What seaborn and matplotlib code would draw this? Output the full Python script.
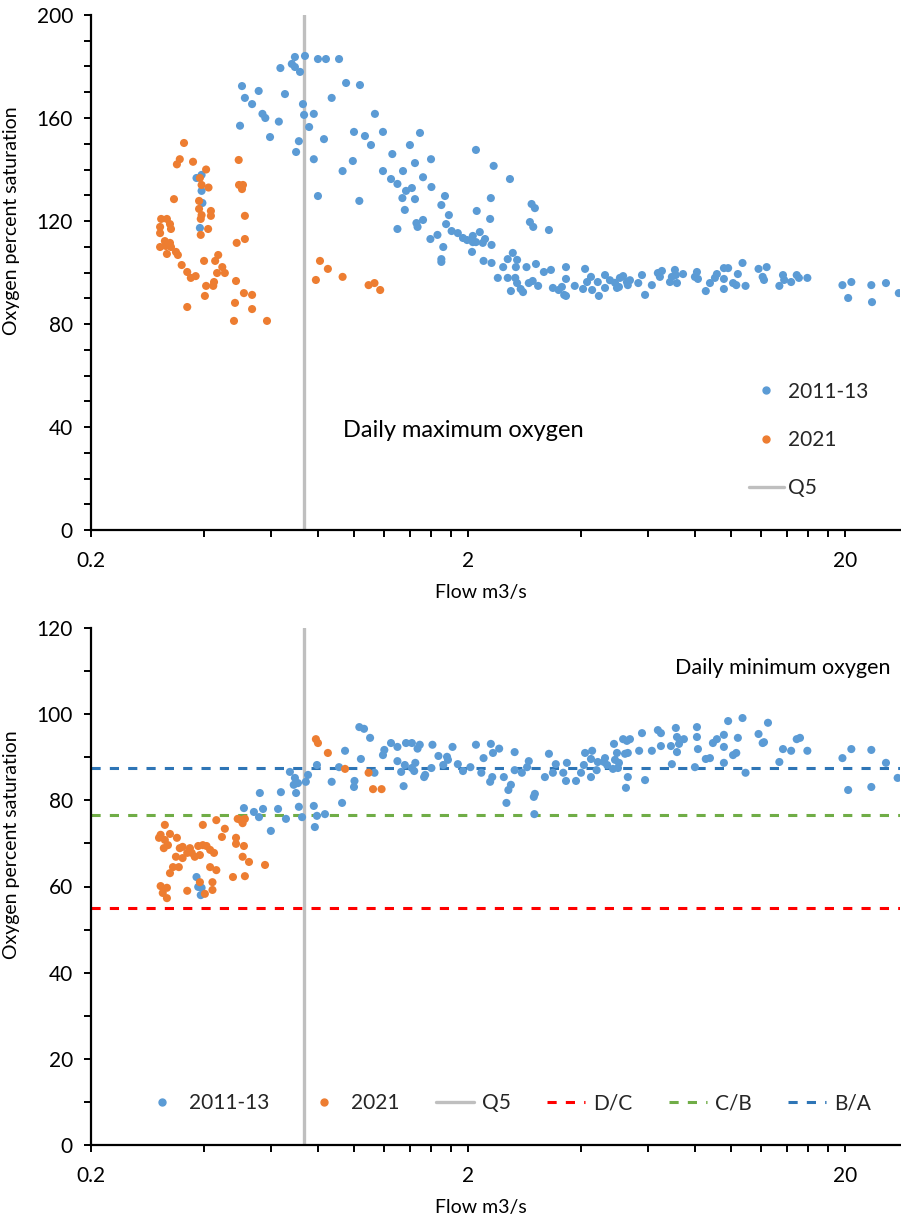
import numpy as np
import pandas as pd
import matplotlib
matplotlib.use("Agg")
import matplotlib.pyplot as plt
from matplotlib.lines import Line2D
from matplotlib.ticker import FixedLocator, MultipleLocator, NullFormatter, FixedFormatter
import seaborn as sns

# ---------------- data ----------------
# Daily maximum oxygen (% saturation) against flow (m3/s)
max_1113_flow = [0.381, 0.393, 0.393, 0.395, 0.389,
                 0.497, 0.503, 0.512, 0.535, 0.557, 0.570, 0.580, 0.597, 0.630, 0.636, 0.654,
                 0.695, 0.739, 0.682, 0.695, 0.717, 0.80, 0.84, 0.91, 0.95, 1.034, 0.87, 0.73,
                 0.735, 0.78, 1.133, 0.758, 0.997, 1.066, 1.19, 1.492, 0.712, 0.83, 1.106, 1.403,
                 0.70, 0.78, 0.99, 1.26, 1.447, 1.596, 2.10, 0.93, 1.19, 1.345, 2.34, 1.52, 1.25,
                 1.30, 1.37, 1.42, 1.60, 2.585, 0.80, 1.03, 1.34, 1.447, 1.738, 1.70, 2.30, 2.95,
                 3.01, 1.36, 2.11, 1.78,
                 1.46, 1.52, 1.47, 1.30, 1.75, 1.81, 2.29, 2.15, 2.92, 2.98, 3.28, 1.59, 1.66,
                 1.88, 1.94, 1.99, 2.06, 2.10, 2.06, 2.22, 2.31, 2.19, 1.72, 2.05, 1.70, 1.70,
                 2.20, 2.31, 2.63, 2.55, 2.70, 2.48, 2.68, 2.86, 3.03, 3.18, 3.32, 3.64, 2.40,
                 2.55, 2.67, 2.70, 2.90, 2.97, 3.07, 2.60, 2.80, 2.76, 3.36, 3.48, 3.55, 3.64,
                 3.64, 3.60, 3.84,
                 4.09, 4.04, 4.14, 4.24, 4.27, 4.45, 4.42, 4.62, 4.62, 4.76, 4.91, 4.97, 5.06,
                 5.16, 5.28, 5.38, 5.31, 5.03, 5.66, 5.79, 5.90, 6.15, 6.38, 6.54, 6.46, 6.87,
                 7.17, 7.08, 7.12, 7.44, 6.95, 8.00, 8.10, 8.15, 8.55, 8.77, 9.04, 9.15, 9.55,
                 9.55, 9.55, 9.80, 10.1, 10.4, 10.7, 10.9, 10.3, 11.8, 12.2, 12.4, 12.1, 13.4,
                 13.7, 13.8, 14.4, 14.9, 15.1, 15.9, 19.7, 20.8, 20.4, 23.5, 23.6, 25.7, 27.8]
max_1113_oxy = [136.7, 137.9, 131.7, 127.0, 117.3,
                157.0, 172.4, 167.8, 165.4, 170.5, 161.6, 160.0, 152.6, 158.6, 179.4, 169.3,
                183.7, 184.1, 181.0, 179.8, 177.9, 182.9, 182.9, 182.9, 173.6, 172.8, 167.8, 165.4,
                161.2, 161.6, 161.6, 156.5, 154.6, 153.0, 154.6, 154.2, 151.0, 151.8, 149.5, 149.5,
                146.8, 144.0, 143.3, 146.0, 142.5, 144.0, 147.6, 139.4, 139.4, 139.4, 141.4, 137.0, 136.3,
                134.4, 131.7, 132.8, 133.2, 136.3, 129.7, 127.8, 128.9, 128.5, 129.7, 126.2, 128.9, 126.6,
                125.0, 124.3, 123.9, 122.3,
                119.2, 120.4, 117.7, 116.9, 118.8, 116.1, 120.8, 115.7, 119.6, 117.7, 116.5, 113.0, 114.6,
                115.3, 113.4, 112.6, 114.2, 111.8, 111.8, 113.0, 110.7, 111.5, 109.9, 108.0, 105.2, 104.1,
                104.5, 103.7, 107.6, 105.2, 104.9, 102.1, 102.1, 102.1, 103.3, 100.2, 101.0, 102.1, 97.9,
                97.9, 97.9, 95.9, 95.9, 96.7, 94.8, 92.8, 92.4, 93.6, 94.0, 93.2, 94.4, 97.5,
                90.9, 91.3, 94.8,
                101.4, 93.6, 96.3, 98.3, 93.2, 90.9, 96.3, 99.0, 94.0, 97.0, 96.0, 94.0, 97.9,
                98.6, 96.3, 97.0, 95.1, 94.4, 95.9, 99.0, 91.3, 95.1, 99.8, 100.6, 98.3, 96.3,
                95.9, 101.0, 99.0, 99.4, 98.3, 98.3, 100.2, 97.5, 92.8, 95.9, 97.9, 99.4, 97.5,
                93.6, 101.7, 101.7, 95.9, 99.4, 103.7, 94.8, 95.1, 101.4, 97.1, 102.1, 98.3, 94.8,
                99.0, 97.1, 96.3, 99.0, 97.9, 97.9, 95.1, 96.3, 90.1, 95.1, 88.5, 95.9, 92.0]

max_2021_flow = [0.353, 0.344, 0.338, 0.373, 0.404, 0.493, 0.389, 0.393, 0.410, 0.494, 0.506, 0.503,
                 0.332, 0.387, 0.387, 0.416, 0.416, 0.393, 0.391, 0.512, 0.307, 0.318, 0.305, 0.324,
                 0.326, 0.409, 0.305, 0.391, 0.512, 0.487, 0.314, 0.324, 0.305, 0.316, 0.326, 0.318,
                 0.336, 0.340, 0.348, 0.360, 0.368, 0.379, 0.399, 0.427, 0.435, 0.446, 0.453, 0.432,
                 0.485, 0.404, 0.424, 0.422, 0.401, 0.509, 0.535, 0.360, 0.482, 0.535, 0.479, 0.586,
                 0.81, 0.85, 0.79, 0.93, 1.09, 1.13, 1.17]
max_2021_oxy = [150.3, 144.0, 142.0, 143.0, 140.0, 143.7, 136.7, 134.0, 133.0, 134.0, 134.0, 132.4,
                128.5, 127.8, 124.7, 123.9, 122.0, 122.3, 120.8, 122.0, 120.8, 120.8, 117.7, 118.8,
                116.9, 116.9, 115.3, 114.6, 113.0, 111.5, 112.2, 111.5, 109.9, 110.3, 109.9, 107.2,
                108.0, 106.8, 102.9, 100.2, 97.9, 98.6, 104.5, 104.5, 106.8, 102.1, 99.8, 99.8,
                96.7, 94.8, 96.3, 94.8, 90.9, 92.0, 91.3, 86.6, 88.2, 85.8, 81.2, 81.2,
                104.5, 101.4, 97.1, 98.3, 95.1, 95.9, 93.2]

# Daily minimum oxygen (% saturation) against flow (m3/s)
min_1113_flow = [0.381, 0.385, 0.391, 0.393,
                 0.509, 0.541, 0.558, 0.572, 0.561, 0.600, 0.627, 0.638, 0.658,
                 0.674, 0.695, 0.690, 0.708, 0.743, 0.753, 0.712, 0.700, 0.726,
                 0.780, 0.785, 0.795, 0.835, 0.795, 0.870, 0.910, 0.927, 0.944,
                 1.03, 1.06, 1.10, 1.04, 1.00, 0.997, 1.13, 1.35, 1.33, 1.30, 1.19, 1.20, 1.25,
                 1.30, 1.37, 1.42, 1.49, 1.47, 1.36, 1.42, 1.45, 1.44, 1.53, 1.54, 1.60, 1.61,
                 1.67, 1.72, 1.77, 1.76, 1.82, 1.88, 1.94, 2.03, 2.10, 2.20, 2.17, 2.29, 2.32,
                 2.30, 2.33, 2.42, 2.49, 2.53, 2.56, 2.60, 2.66, 2.66, 2.78, 2.87, 2.90, 2.99,
                 3.01, 3.00, 3.20, 3.28, 3.36, 3.42, 3.58, 3.66, 3.64, 3.87,
                 4.09, 4.27, 4.06, 3.99, 4.24, 4.24, 4.42, 4.39, 4.59, 4.62, 4.68, 4.85, 4.88,
                 4.91, 4.97, 5.00, 5.03, 5.16, 5.28, 5.38, 5.22, 5.31, 5.31, 5.25, 5.69, 5.79,
                 5.90, 6.15, 6.38, 6.50, 6.50, 6.95, 6.91, 7.12, 7.17, 7.17, 7.26, 7.48, 8.00,
                 8.10, 8.10, 8.15, 8.55, 8.77, 8.93, 9.15, 9.55, 9.55, 9.55, 9.80, 10.1, 10.3,
                 10.4, 10.7, 10.9, 11.8, 12.1, 12.2, 12.5, 13.4, 13.7, 14.4, 14.9, 15.2, 15.9,
                 19.7, 20.8, 20.4, 23.5, 23.5, 25.7, 27.6]
min_1113_oxy = [62.2, 59.9, 58.0, 59.7,
                78.2, 77.3, 76.1, 78.0, 81.7, 72.9, 78.0, 81.9, 75.7,
                86.6, 85.2, 83.6, 84.0, 84.3, 85.9, 78.5, 81.7, 76.1,
                78.7, 73.8, 76.4, 76.8, 88.2, 84.3, 87.7, 79.4, 91.5,
                97.0, 96.6, 94.5, 89.6, 84.5, 83.1, 86.4, 83.3, 86.6, 89.1, 90.5, 91.7, 93.3,
                92.4, 93.3, 93.3, 92.9, 92.0, 88.2, 87.5, 88.7, 86.8, 85.4, 85.9, 87.5, 92.9,
                90.3, 88.2, 89.4, 90.1, 92.4, 88.4, 86.8, 87.7, 92.9, 89.8, 86.4, 84.3, 85.4,
                93.1, 91.0, 92.0, 85.4, 79.4, 82.4, 83.6, 87.0, 91.2, 86.4, 87.7, 89.1, 80.8,
                81.5, 76.8, 85.4, 90.8, 86.4, 88.4, 86.4, 88.7, 84.5, 84.5,
                91.0, 91.5, 88.2, 86.4, 85.4, 89.6, 88.9, 87.0, 88.9, 89.8, 88.2, 87.3, 93.1,
                89.4, 91.0, 87.5, 88.7, 94.2, 93.8, 94.2, 90.8, 91.0, 85.4, 82.9, 91.5, 95.6,
                84.7, 91.5, 96.3, 95.6, 92.6, 88.4, 92.6, 96.8, 94.7, 91.2, 93.1, 94.2, 87.7,
                97.0, 94.7, 91.9, 89.6, 89.8, 93.3, 94.2, 95.2, 92.4, 88.7, 98.4, 90.5, 91.0,
                94.5, 99.1, 86.4, 95.4, 93.3, 93.5, 98.0, 88.9, 91.9, 91.5, 94.2, 94.5, 91.5,
                89.8, 91.9, 82.4, 91.7, 83.1, 88.7, 85.2]

min_2021_flow = [0.79, 0.80, 0.85, 0.944, 1.09, 1.12, 1.18,
                 0.314, 0.430, 0.396, 0.453, 0.490, 0.500, 0.512, 0.505, 0.445, 0.485, 0.485, 0.509,
                 0.306, 0.303, 0.314, 0.324, 0.338, 0.312, 0.320,
                 0.344, 0.350, 0.366, 0.360, 0.385, 0.396, 0.405, 0.414, 0.424, 0.389, 0.377, 0.370,
                 0.336, 0.350, 0.330, 0.342, 0.414, 0.430, 0.505, 0.525, 0.579,
                 0.324, 0.476, 0.512,
                 0.306, 0.318, 0.310, 0.318,
                 0.360, 0.389, 0.401, 0.420, 0.420]
min_2021_oxy = [94.2, 93.3, 91.0, 87.3, 86.4, 82.6, 82.6,
                74.3, 75.4, 74.3, 73.4, 75.7, 75.4, 75.7, 74.7, 71.5, 71.3, 69.9, 69.4,
                72.0, 71.3, 70.8, 72.2, 71.3, 68.9, 69.6,
                68.9, 69.2, 68.9, 67.8, 69.4, 69.6, 69.4, 68.5, 67.8, 67.3, 66.9, 67.8,
                66.9, 66.6, 64.5, 64.5, 64.5, 63.8, 66.9, 65.7, 65.0,
                63.1, 62.2, 62.4,
                60.1, 59.7, 58.5, 57.3,
                59.0, 61.0, 58.3, 61.0, 59.2]

q5_flow = 0.733
band_names = ["D/C", "C/B", "B/A"]
band_limits = [55.0, 76.5, 87.5]

x_major = [0.2, 2, 20]
x_major_labels = ["0.2", "2", "20"]

# ---------------- style ----------------
sns.set_theme(style="white")
plt.rcParams["font.family"] = ["Lato", "DejaVu Sans"]

C_BLUE = "#5B9BD5"
C_ORANGE = "#ED7D31"
C_Q5 = "#BFBFBF"
band_colors = ["#FF0000", "#70AD47", "#2E75B6"]

W, H = 901, 1218
fig = plt.figure(figsize=(W / 100, H / 100), dpi=100)
ax1 = fig.add_axes([91 / W, 1 - 530 / H, 809 / W, 515 / H])
ax2 = fig.add_axes([91 / W, 1 - 1145 / H, 809 / W, 517 / H])

max_df = pd.concat([
    pd.DataFrame({"flow": max_1113_flow, "oxy": max_1113_oxy, "period": "2011-13"}),
    pd.DataFrame({"flow": max_2021_flow, "oxy": max_2021_oxy, "period": "2021"}),
], ignore_index=True)
min_df = pd.concat([
    pd.DataFrame({"flow": min_1113_flow, "oxy": min_1113_oxy, "period": "2011-13"}),
    pd.DataFrame({"flow": min_2021_flow, "oxy": min_2021_oxy, "period": "2021"}),
], ignore_index=True)
palette = {"2011-13": C_BLUE, "2021": C_ORANGE}

TICK_FS = 15
LABEL_FS = 14
LEG_FS = 15


def style_axis(ax, ymax, ymajor):
    ax.set_xscale("log")
    ax.set_xlim(0.2, 28)
    ax.set_ylim(0, ymax)
    ax.xaxis.set_major_locator(FixedLocator(x_major))
    ax.xaxis.set_major_formatter(FixedFormatter(x_major_labels))
    minor = [m * k for m in (0.2, 2, 20) for k in range(2, 10)]
    ax.xaxis.set_minor_locator(FixedLocator(minor))
    ax.xaxis.set_minor_formatter(NullFormatter())
    ax.yaxis.set_major_locator(MultipleLocator(ymajor))
    ax.yaxis.set_minor_locator(MultipleLocator(10))
    for s in ("top", "right"):
        ax.spines[s].set_visible(False)
    for s in ("left", "bottom"):
        ax.spines[s].set_color("black")
        ax.spines[s].set_linewidth(1.6)
    ax.tick_params(which="both", direction="out", length=5, width=1.4, color="black",
                   labelsize=TICK_FS, labelcolor="black", left=True, bottom=True)
    ax.tick_params(axis="x", which="major", pad=10)
    ax.tick_params(axis="y", which="major", pad=8)
    ax.set_xlabel("Flow m3/s", fontsize=LABEL_FS, color="black")
    ax.set_ylabel("Oxygen percent saturation", fontsize=LABEL_FS, color="black")
    ax.grid(False)
    ax.set_facecolor("white")


# ---------------- top panel: daily maximum ----------------
ax1.axvline(q5_flow, color=C_Q5, lw=2.4, zorder=1)
sns.scatterplot(data=max_df, x="flow", y="oxy", hue="period", palette=palette,
                s=34, linewidth=0, legend=False, ax=ax1, zorder=3)
style_axis(ax1, 200, 40)
ax1.xaxis.set_label_coords(0.482, -0.105)
ax1.yaxis.set_label_coords(-0.088, 0.60)
ax1.text(0.3115, 0.194, "Daily maximum oxygen", transform=ax1.transAxes,
         fontsize=17, ha="left", va="center", color="black")

h_top = [
    Line2D([], [], ls="none", marker="o", ms=5, color=C_BLUE, label="2011-13"),
    Line2D([], [], ls="none", marker="o", ms=5, color=C_ORANGE, label="2021"),
    Line2D([], [], color=C_Q5, lw=2.4, label="Q5"),
]
ax1.legend(handles=h_top, loc="center left", bbox_to_anchor=(0.813, 0.175),
           frameon=False, fontsize=LEG_FS, handlelength=1.7, handletextpad=0.2,
           labelspacing=1.35, borderpad=0, borderaxespad=0)

# ---------------- bottom panel: daily minimum ----------------
ax2.axvline(q5_flow, color=C_Q5, lw=2.4, zorder=1)
for lim, col in zip(band_limits, band_colors):
    ax2.axhline(lim, color=col, lw=2.2, dashes=(3, 3), zorder=2)
sns.scatterplot(data=min_df, x="flow", y="oxy", hue="period", palette=palette,
                s=34, linewidth=0, legend=False, ax=ax2, zorder=3)
style_axis(ax2, 120, 20)
ax2.xaxis.set_label_coords(0.482, -0.105)
ax2.yaxis.set_label_coords(-0.088, 0.58)
ax2.text(0.988, 0.923, "Daily minimum oxygen", transform=ax2.transAxes,
         fontsize=15.5, ha="right", va="center", color="black")

h_bot = [
    Line2D([], [], ls="none", marker="o", ms=5, color=C_BLUE, label="2011-13"),
    Line2D([], [], ls="none", marker="o", ms=5, color=C_ORANGE, label="2021"),
    Line2D([], [], color=C_Q5, lw=2.4, label="Q5"),
]
for name, col in zip(band_names, band_colors):
    h_bot.append(Line2D([], [], color=col, lw=2.2, dashes=(3, 3), label=name))
ax2.legend(handles=h_bot, loc="center", bbox_to_anchor=(0.514, 0.081), ncol=6,
           frameon=False, fontsize=LEG_FS, handlelength=1.8, handletextpad=0.4,
           columnspacing=1.75, borderpad=0, borderaxespad=0)

fig.savefig("out.png", dpi=100, facecolor="white")
